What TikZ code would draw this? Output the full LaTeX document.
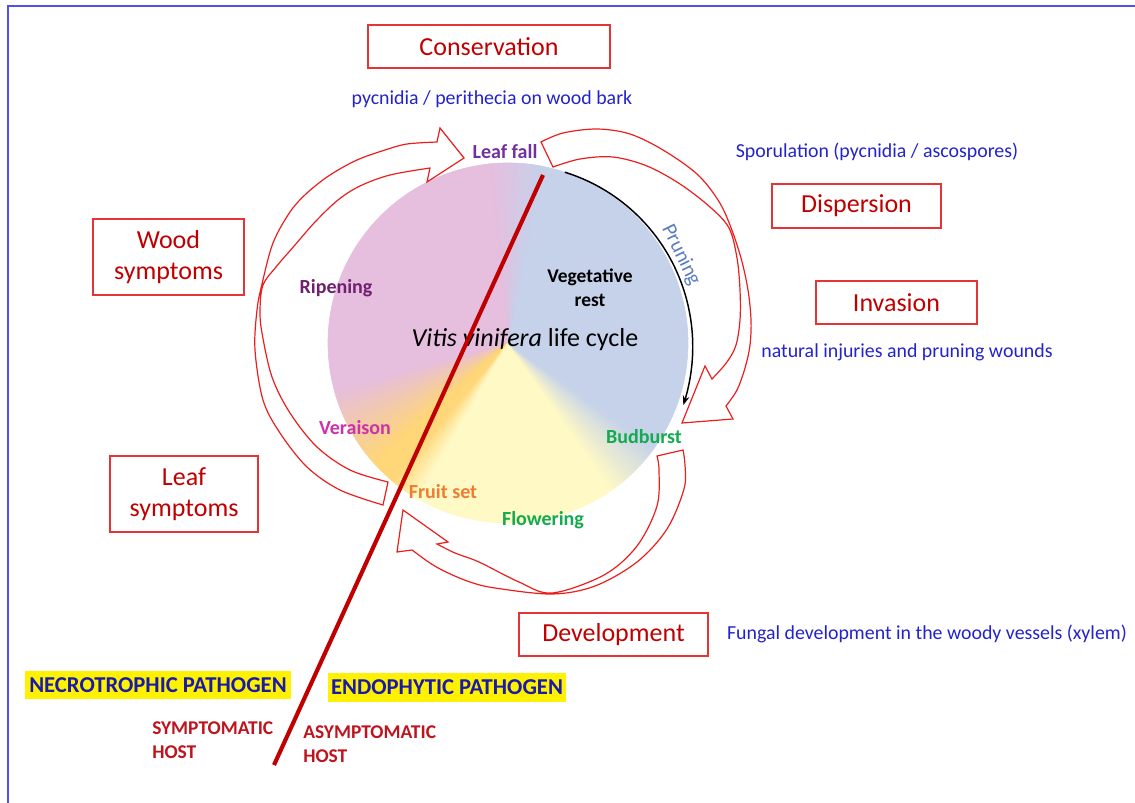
\documentclass[tikz,border=0pt]{standalone}
\usepackage{fontspec}
\setmainfont{Carlito}
\usetikzlibrary{arrows.meta}

\definecolor{vblue}{RGB}{197,210,234}
\definecolor{vpink}{RGB}{230,190,222}
\definecolor{vyellow}{RGB}{255,249,198}
\definecolor{vorange}{RGB}{255,214,120}
\definecolor{boxred}{RGB}{228,52,52}
\definecolor{darkred}{RGB}{192,0,0}
\definecolor{arrowred}{RGB}{235,30,30}
\definecolor{noteblue}{RGB}{35,35,205}
\definecolor{pathblue}{RGB}{25,25,170}
\definecolor{hostred}{RGB}{190,20,30}
\definecolor{framecol}{RGB}{80,80,240}
\definecolor{leaffallcol}{RGB}{112,48,160}
\definecolor{ripecol}{RGB}{112,32,112}
\definecolor{veraisoncol}{RGB}{204,51,170}
\definecolor{fruitcol}{RGB}{237,125,49}
\definecolor{greencol}{RGB}{20,170,80}
\definecolor{prunecol}{RGB}{90,125,190}

\newdimen\pxu \pxu=0.75pt

% one colour band of the pie, split in thin wedges (start, end, steps, from, to)
\newcommand\pieband[5]{%
  \foreach \k in {1,...,#3}{%
    \pgfmathsetmacro\aa{#1+(#2-#1)*(\k-1)/#3}%
    \pgfmathsetmacro\bb{#1+(#2-#1)*\k/#3+0.3}%
    \pgfmathsetmacro\mm{(\aa+\bb)/2}%
    \pgfmathsetmacro\pp{100*(\k-0.5)/#3}%
    \filldraw[#5!\pp!#4, line width=0.5pt, line join=round] (508,343)
      -- ({508+180*cos(\aa)},{343-180*sin(\aa)})
      -- ({508+180*cos(\mm)},{343-180*sin(\mm)})
      -- ({508+180*cos(\bb)},{343-180*sin(\bb)}) -- cycle;}}

\begin{document}
\begin{tikzpicture}[x=0.75pt,y=-0.75pt,
  stagebox/.style={draw=boxred, line width=0.9pt, text=darkred,
    font=\fontsize{19.5}{23.25}\selectfont, align=center, inner sep=0pt},
  note/.style={text=noteblue, font=\fontsize{14.9}{18}\selectfont, inner sep=0pt},
  phase/.style={font=\bfseries\fontsize{15}{18}\selectfont, inner sep=0pt, align=center},
  pathogen/.style={fill=yellow, text=pathblue,
    font=\bfseries\fontsize{17}{20}\selectfont, inner sep=0pt},
  host/.style={text=hostred, font=\bfseries\fontsize{14.6}{18}\selectfont,
    align=left, inner sep=0pt, anchor=west},
  cyclearrow/.style={draw=arrowred, line width=0.9pt, line join=miter},
  prunearc/.style={draw=black, line width=1.1pt, -{Stealth[length=7pt,width=5pt]}},
  cutline/.style={draw=darkred, line width=3.1pt},
  frameline/.style={draw=framecol, line width=2pt},
  sector/.style={line width=0.5pt, line join=round}]

\useasboundingbox (0,0) rectangle (1135,803);

% frame
\draw[frameline] (8,803) -- (8,6) -- (1135,6);

% life-cycle pie with soft transitions between the seasons
\filldraw[sector, vblue] (508,343) -- plot[domain=-35:78,samples=80] ({508+180*cos(\x)},{343-180*sin(\x)}) -- cycle;
\pieband{78}{96}{18}{vblue}{vpink}
\filldraw[sector, vpink] (508,343) -- plot[domain=96:195,samples=80] ({508+180*cos(\x)},{343-180*sin(\x)}) -- cycle;
\pieband{195}{222}{27}{vpink}{vorange}
\filldraw[sector, vorange] (508,343) -- plot[domain=222:230,samples=10] ({508+180*cos(\x)},{343-180*sin(\x)}) -- cycle;
\pieband{230}{240}{10}{vorange}{vyellow}
\filldraw[sector, vyellow] (508,343) -- plot[domain=240:305,samples=60] ({508+180*cos(\x)},{343-180*sin(\x)}) -- cycle;
\pieband{305}{325}{20}{vyellow}{vblue}

% pruning arc
\draw[prunearc] plot[domain=71.6:-19.5,samples=70]
  ({508+(180+(71.6-\x)/91*6)*cos(\x)},{343-(180+(71.6-\x)/91*6)*sin(\x)});
\node[text=prunecol, font=\fontsize{15.5}{18}\selectfont, rotate=-64, inner sep=0pt]
  (pruning) at (681,255) {Pruning};

% curved block arrows round the cycle
% left: fruit set up to leaf fall
\draw[cyclearrow]
  plot[smooth,tension=0.55] coordinates {(383,505) (340,490) (307,467) (280,433) (263,400)
    (255,350) (257,310) (262,284) (273,243) (290,212) (307,193) (330,175) (357,160)
    (385,150) (407,144) (437,142)}
  -- (440,128) -- (464,158) -- (427,182) -- (430,168)
  -- plot[smooth,tension=0.55] coordinates {(430,168) (390,175) (360,186) (338,200)
    (315,222) (295,245) (276,267) (263,285) (260,310) (262,333) (272,377) (290,413)
    (317,447) (350,470) (388,482)}
  -- cycle;
% right: leaf fall down to budburst
\draw[cyclearrow]
  plot[smooth,tension=0.55] coordinates {(541,142) (563,133) (597,129) (630,134) (663,150)
    (697,174) (718,200) (730,225) (741,258) (748,290) (751,320) (750,345) (745,368)
    (737,390) (726,406)}
  -- (733,419) -- (682,423) -- (705,366) -- (712,379)
  -- plot[smooth,tension=0.55] coordinates {(712,379) (727,362) (736,345) (740,320)
    (740,290) (737,258) (729,228) (710,207) (680,184) (647,166) (613,157) (580,159)
    (553,167)}
  -- cycle;
% bottom: budburst round to fruit set
\draw[cyclearrow]
  plot[smooth,tension=0.55] coordinates {(683,450) (685,465) (684,489) (667,529) (637,562)
    (595,586) (552,594) (495,588) (470,582) (446,572) (430,563) (412,550)}
  -- (397,552) -- (403,510) -- (448,542) -- (437,544)
  -- plot[smooth,tension=0.55] coordinates {(437,544) (455,553) (479,562) (519,582)
    (552,593) (604,575) (637,546) (657,506) (659,470) (657,456)}
  -- cycle;

% stages of the cycle
\node[phase, text=leaffallcol] (leaffall) at (505,152) {Leaf fall};
\node[phase, text=ripecol] (ripening) at (336,288) {Ripening};
\node[phase, text=black, font=\bfseries\fontsize{14.6}{18}\selectfont] (vegrest) at (590,288) {Vegetative\\rest};
\node[inner sep=0pt, font=\fontsize{19.5}{23}\selectfont] (title) at (525,340) {\textit{Vitis vinifera} life cycle};
\node[phase, text=veraisoncol] (veraison) at (355,428) {Veraison};
\node[phase, text=greencol] (budburst) at (644,437) {Budburst};
\node[phase, text=fruitcol] (fruitset) at (443,492) {Fruit set};
\node[phase, text=greencol] (flowering) at (543,520) {Flowering};

% pathogen steps
\node[stagebox, minimum width=242\pxu, minimum height=43\pxu] (conservation) at (489,46.5) {Conservation};
\node[note] (barknote) at (492,99) {pycnidia / perithecia on wood bark};
\node[note] (sporenote) at (877,152) {Sporulation (pycnidia / ascospores)};
\node[stagebox, minimum width=169\pxu, minimum height=44\pxu] (dispersion) at (856.5,206) {Dispersion};
\node[stagebox, minimum width=161\pxu, minimum height=43\pxu] (invasion) at (896.5,302.5) {Invasion};
\node[note] (woundnote) at (907,352) {natural injuries and pruning wounds};
\node[stagebox, minimum width=151\pxu, minimum height=76\pxu] (woodsym) at (168.5,257) {Wood\\symptoms};
\node[stagebox, minimum width=148\pxu, minimum height=76\pxu] (leafsym) at (184,494) {Leaf\\symptoms};
\node[stagebox, minimum width=189\pxu, minimum height=43\pxu] (development) at (613.5,634.5) {Development};
\node[note] (xylemnote) at (927,634) {Fungal development in the woody vessels (xylem)};

% pathogen types and hosts
\node[pathogen, minimum width=266\pxu, minimum height=28\pxu] (necro) at (158,685) {NECROTROPHIC PATHOGEN};
\node[pathogen, minimum width=238\pxu, minimum height=29\pxu] (endo) at (447,687.5) {ENDOPHYTIC PATHOGEN};
\node[host] (symhost) at (152,740) {SYMPTOMATIC\\HOST};
\node[host] (asymhost) at (303,744) {ASYMPTOMATIC\\HOST};

% dividing line between the two behaviours
\coordinate (cuttop) at (543,175);
\coordinate (cutbottom) at (274,765);
\draw[cutline] (cuttop) -- (cutbottom);

\end{tikzpicture}
\end{document}
